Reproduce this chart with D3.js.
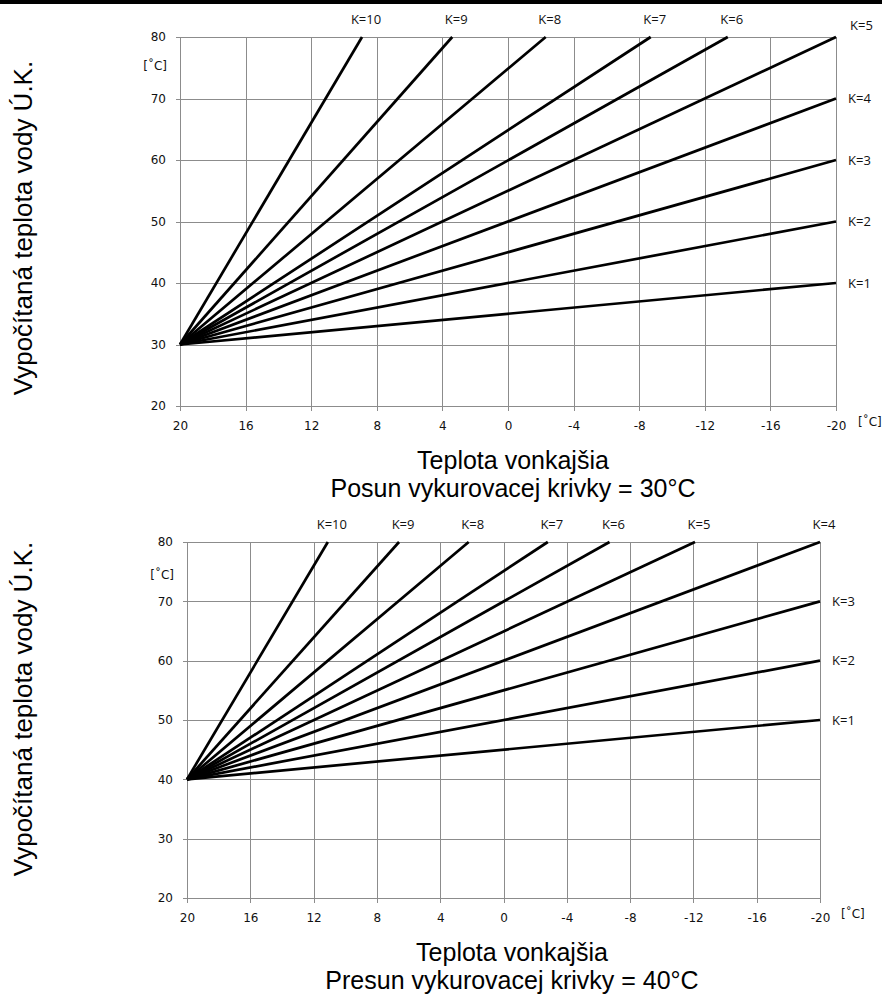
<!DOCTYPE html>
<meta charset="utf-8">
<style>
body { margin: 0; background: #fff; }
.tick text, .unit { font: 12px "DejaVu Sans", sans-serif; fill: #111; }
.klabel { font: 13px "Open Sans", sans-serif; fill: #111; }
.title { font: 26px "Liberation Sans", Arial, sans-serif; fill: #000; text-anchor: middle; }
.xtitle { font-size: 25px; }
.grid line, .axis line, .axis path { stroke: #8c8c8c; shape-rendering: crispEdges; }
.curve { fill: none; stroke: #000; stroke-width: 2.7px; }
</style>
<body>
<script src="https://d3js.org/d3.v7.min.js"></script>
<script>

var kValues = [1, 2, 3, 4, 5, 6, 7, 8, 9, 10];
var xTicks = [20, 16, 12, 8, 4, 0, -4, -8, -12, -16, -20];
var yTicks = [20, 30, 40, 50, 60, 70, 80];

// upper chart: all curves start at (20, 30)
var start1 = [20, 30];
var endX1 = [-20, -20, -20, -20, -20, -13.4, -8.7, -2.3, 3.4, 8.9];
var endY1 = [40, 50, 60, 70, 80, 80, 80, 80, 80, 80];

// lower chart: all curves start at (20, 40)
var start2 = [20, 40];
var endX2 = [-20, -20, -20, -20, -12.1, -6.7, -2.8, 2.2, 6.6, 11.1];
var endY2 = [50, 60, 70, 80, 80, 80, 80, 80, 80, 80];

var yTitle = "Vypočítaná teplota vody Ú.K.";
var xTitle = "Teplota vonkajšia";
var subtitle1 = "Posun vykurovacej krivky = 30°C";
var subtitle2 = "Presun vykurovacej krivky = 40°C";

var svg = d3.select("body").append("svg")
    .attr("width", 882)
    .attr("height", 995);

// black bar along the top edge
svg.append("rect")
    .attr("x", 0).attr("y", 0)
    .attr("width", 882).attr("height", 4)
    .attr("fill", "#000");

function drawChart(c) {
  var x = d3.scaleLinear().domain([20, -20]).range([c.left, c.right]);
  var y = d3.scaleLinear().domain([20, 80]).range([c.bottom, c.top]);
  var g = svg.append("g");

  // grid
  var grid = g.append("g").attr("class", "grid");
  grid.selectAll(".v").data(xTicks).enter().append("line")
      .attr("x1", function(d) { return Math.round(x(d)) + 0.5; })
      .attr("x2", function(d) { return Math.round(x(d)) + 0.5; })
      .attr("y1", c.top).attr("y2", c.bottom);
  grid.selectAll(".h").data(yTicks).enter().append("line")
      .attr("y1", function(d) { return Math.round(y(d)) + 0.5; })
      .attr("y2", function(d) { return Math.round(y(d)) + 0.5; })
      .attr("x1", c.left).attr("x2", c.right);

  // axes (plain hyphen for negatives, like the original)
  var fmt = function(d) { return String(d); };
  g.append("g").attr("class", "axis")
      .attr("transform", "translate(0," + c.bottom + ")")
      .call(d3.axisBottom(x).tickValues(xTicks).tickFormat(fmt)
            .tickSize(5).tickPadding(10).tickSizeOuter(0))
      .call(function(a) { a.select(".domain").remove(); });
  g.append("g").attr("class", "axis")
      .attr("transform", "translate(" + c.left + ",0)")
      .call(d3.axisLeft(y).tickValues(yTicks).tickFormat(fmt)
            .tickSize(4).tickPadding(10).tickSizeOuter(0))
      .call(function(a) { a.select(".domain").remove(); });

  g.append("text").attr("class", "unit")
      .attr("x", c.left - 13).attr("y", y(c.unitY))
      .attr("text-anchor", "end").attr("dy", "0.35em")
      .text("[˚C]");
  g.append("text").attr("class", "unit")
      .attr("x", c.right + c.unitDx).attr("y", c.bottom + 20)
      .text("[˚C]");

  // curves
  var line = d3.line().x(function(d) { return x(d[0]); }).y(function(d) { return y(d[1]); });
  kValues.forEach(function(k, i) {
    var pts = [c.start, [c.endX[i], c.endY[i]]];
    g.append("path").attr("class", "curve").attr("d", line(pts));

    var ex = x(c.endX[i]), ey = y(c.endY[i]);
    var lbl = g.append("text").attr("class", "klabel").text("K=" + k);
    if (c.endY[i] < 80) {
      lbl.attr("x", ex + 12).attr("y", ey).attr("dy", "0.35em");
    } else if (c.endX[i] === -20 && c.cornerRight) {
      lbl.attr("x", ex + 14).attr("y", ey - 12).attr("dy", "0.35em");
    } else {
      lbl.attr("x", ex + 4).attr("y", c.top - 18)
         .attr("text-anchor", "middle").attr("dy", "0.35em");
    }
  });

  // titles
  svg.append("text").attr("class", "title")
      .attr("transform", "translate(" + 32 + "," + c.yTitleY + ") rotate(-90)")
      .text(yTitle);
  svg.append("text").attr("class", "title xtitle")
      .attr("x", c.titleX).attr("y", c.bottom + 63)
      .text(xTitle);
  svg.append("text").attr("class", "title xtitle")
      .attr("x", c.titleX).attr("y", c.bottom + 91)
      .text(c.subtitle);
}

drawChart({
  left: 180, right: 836, top: 37, bottom: 406,
  start: start1, endX: endX1, endY: endY1,
  unitY: 75.3, unitDx: 22, cornerRight: true,
  titleX: 513, yTitleY: 228, subtitle: subtitle1
});

drawChart({
  left: 187, right: 820, top: 542, bottom: 898,
  start: start2, endX: endX2, endY: endY2,
  unitY: 74.4, unitDx: 21, cornerRight: false,
  titleX: 512, yTitleY: 709, subtitle: subtitle2
});

</script>
